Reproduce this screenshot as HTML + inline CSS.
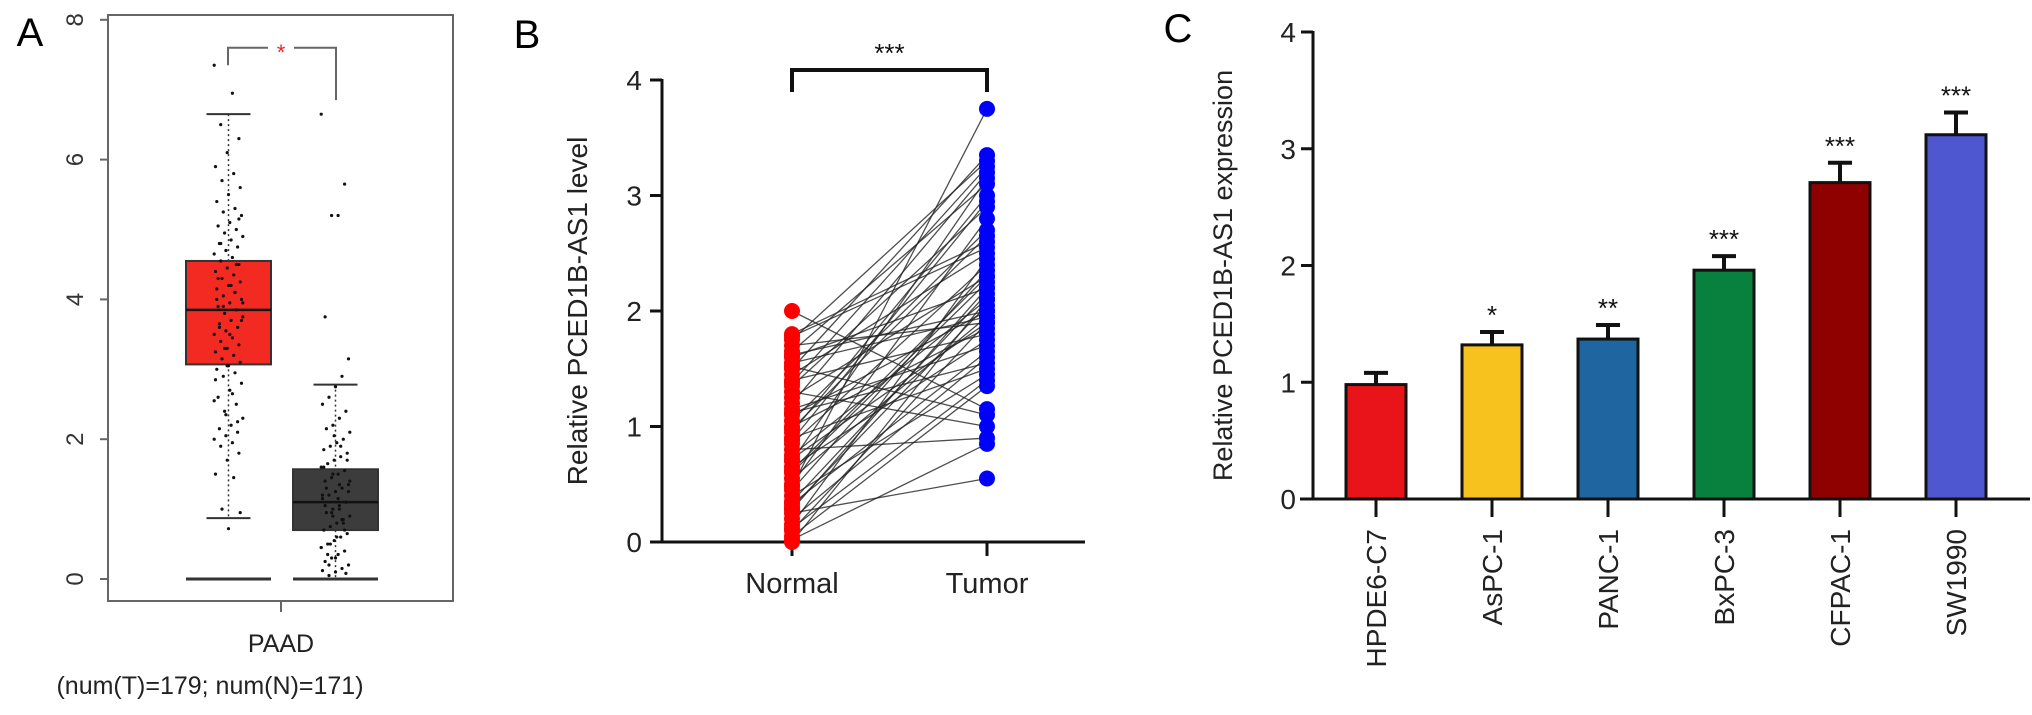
<!DOCTYPE html>
<html><head><meta charset="utf-8"><style>
html,body{margin:0;padding:0;background:#fff;width:2032px;height:715px;overflow:hidden}
svg{display:block;font-family:"Liberation Sans",Arial,sans-serif}
</style></head><body>
<svg id="fig" width="2032" height="715" viewBox="0 0 2032 715">
<g id="pa"></g>
<g id="pb"></g>
<g id="pc"></g>
</svg>
<script>
// ---------- Panel A data ----------
const aTicks = [0, 2, 4, 6, 8];
const aBoxT = {q1: 3.07, med: 3.85, q3: 4.55, lo: 0.87, hi: 6.65};
const aBoxN = {q1: 0.70, med: 1.10, q3: 1.57, lo: 0.0, hi: 2.78};
const aPtsT = [7.35,6.95,6.5,6.3,6.1,5.9,5.8,5.7,5.6,5.5,5.4,5.3,5.25,5.2,5.1,5.05,5.0,4.95,4.9,4.85,4.8,4.75,4.7,4.65,4.6,4.55,4.5,4.45,4.4,4.35,4.3,4.25,4.2,4.15,4.1,4.05,4.0,3.95,3.9,3.85,3.8,3.75,3.7,3.65,3.6,3.55,3.5,3.45,3.4,3.35,3.3,3.25,3.2,3.15,3.1,3.05,3.0,2.95,2.9,2.8,2.7,2.6,2.5,2.4,2.3,2.2,2.15,2.1,2.05,2.0,1.95,1.9,1.8,1.7,1.5,1.45,1.0,0.95,0.72,4.0,4.1,3.9,3.7,3.5,4.3,4.5,3.3,3.95,4.2,3.6,2.25,2.35,2.55,2.65,4.8,5.15,3.05,2.85];
const aPtsN = [6.65,5.65,5.2,5.2,3.75,3.15,2.9,2.75,2.6,2.5,2.4,2.3,2.2,2.15,2.1,2.0,1.95,1.9,1.85,1.8,1.75,1.7,1.65,1.6,1.55,1.5,1.45,1.4,1.35,1.3,1.25,1.2,1.15,1.1,1.05,1.0,0.95,0.9,0.85,0.8,0.75,0.7,0.65,0.6,0.55,0.5,0.45,0.4,0.35,0.3,0.25,0.2,0.15,0.1,0.05,1.2,1.1,1.0,0.9,1.3,1.4,0.8,0.6,0.5,1.6,1.7,1.9,2.05,0.35,0.45,0.7,1.15,0.95,1.05,1.25,0.85,0.3,0.2,0.12,0.08,1.35,1.5];

// ---------- Panel B data ----------
const bTicks = [0, 1, 2, 3, 4];
const bGroups = ["Normal", "Tumor"];
const bNormal = [2.0,1.8,1.75,1.7,1.65,1.6,1.55,1.5,1.45,1.4,1.35,1.3,1.25,1.2,1.15,1.1,1.05,1.0,0.95,0.9,0.85,0.8,0.75,0.7,0.65,0.6,0.55,0.5,0.45,0.4,0.35,0.3,0.25,0.2,0.15,0.1,0.05,0.02,1.78,1.62,1.38,1.12,0.98,0.72,0.48,0.28,0.12,1.52,0.88,0.62,0.33,0.0];
const bTumor = [1.15,2.6,3.3,1.9,3.1,2.2,1.95,3.35,2.5,1.8,2.9,1.0,2.3,3.2,1.7,2.0,2.7,1.85,3.0,1.5,2.4,0.9,2.1,3.15,1.75,2.25,1.95,2.8,2.35,1.45,2.15,2.05,0.55,1.6,2.45,1.9,1.35,0.85,2.55,2.0,3.25,1.55,2.65,1.9,3.75,2.2,1.4,1.1,2.95,2.3,1.65,2.1];

// ---------- Panel C data ----------
const cTicks = [0, 1, 2, 3, 4];
const cCats = ["HPDE6-C7","AsPC-1","PANC-1","BxPC-3","CFPAC-1","SW1990"];
const cVals = [0.98, 1.32, 1.37, 1.96, 2.71, 3.12];
const cErrs = [0.10, 0.11, 0.12, 0.12, 0.17, 0.19];
const cSig = ["", "*", "**", "***", "***", "***"];
const cColors = ["#e8141a","#f8c21e","#1f65a0","#08803e","#8f0000","#4f57d0"];

const NS = "http://www.w3.org/2000/svg";
function mk(parent, tag, attrs, text){
  const e = document.createElementNS(NS, tag);
  for (const k in attrs) e.setAttribute(k, attrs[k]);
  if (text !== undefined) e.textContent = text;
  parent.appendChild(e);
  return e;
}

// ================= PANEL A =================
(function(){
  const g = document.getElementById('pa');
  const y = v => 579 - v * 69.9;
  let t = mk(g,'text',{x:30,y:46,'font-size':40,'text-anchor':'middle'},'A');
   
  let r = mk(g,'rect',{x:108,y:15,width:345,height:586,fill:'none',stroke:'#666','stroke-width':2});
   
  aTicks.forEach(v=>{
    const l = mk(g,'line',{x1:100,x2:108,y1:y(v),y2:y(v),stroke:'#666','stroke-width':2});
     
    const tx = mk(g,'text',{x:0,y:0,'font-size':24,'text-anchor':'middle',fill:'#333',transform:`translate(83,${y(v)}) rotate(-90)`},String(v));
     
  });
  const xt = mk(g,'line',{x1:281,x2:281,y1:601,y2:612,stroke:'#666','stroke-width':2});
   
  t = mk(g,'text',{x:281,y:652,'font-size':25,'text-anchor':'middle',fill:'#222'},'PAAD');
   
  t = mk(g,'text',{x:210,y:694,'font-size':25,'text-anchor':'middle',fill:'#222'},'(num(T)=179; num(N)=171)');
   

  function box(b, x0, x1, fill, name){
    const c = (x0+x1)/2;
    const bg = mk(g,'g',{});
     
    mk(bg,'line',{x1:c,x2:c,y1:y(b.hi),y2:y(b.q3),stroke:'#333','stroke-width':1.5,'stroke-dasharray':'2,3'});
    mk(bg,'line',{x1:c,x2:c,y1:y(b.q1),y2:y(b.lo),stroke:'#333','stroke-width':1.5,'stroke-dasharray':'2,3'});
    mk(bg,'line',{x1:c-22,x2:c+22,y1:y(b.hi),y2:y(b.hi),stroke:'#333','stroke-width':2});
    if (b.lo>0) mk(bg,'line',{x1:c-22,x2:c+22,y1:y(b.lo),y2:y(b.lo),stroke:'#333','stroke-width':2});
    mk(bg,'rect',{x:x0,y:y(b.q3),width:x1-x0,height:y(b.q1)-y(b.q3),fill:fill,stroke:'#333','stroke-width':2});
    mk(bg,'line',{x1:x0,x2:x1,y1:y(b.med),y2:y(b.med),stroke:'#111','stroke-width':2.5});
    mk(bg,'line',{x1:x0,x2:x1,y1:y(0),y2:y(0),stroke:'#333','stroke-width':3});
    return c;
  }
  const cT = box(aBoxT,186,271,'#f32a22','tumor-box');
  const cN = box(aBoxN,293,378,'#3c3c3c','normal-box');
  aPtsT.forEach((v,i)=>{
    const j = ((i*37)%23 - 11) * 1.3;
    const p = mk(g,'circle',{cx:cT+j,cy:y(v),r:1.6,fill:'#111'});
     
  });
  aPtsN.forEach((v,i)=>{
    const j = ((i*41)%23 - 11) * 1.3;
    const p = mk(g,'circle',{cx:cN+j,cy:y(v),r:1.6,fill:'#111'});
     
  });
  const br = mk(g,'path',{d:`M228 ${y(7.35)} V${y(7.6)} H268 M294 ${y(7.6)} H336 V${y(6.85)}`,fill:'none',stroke:'#666','stroke-width':2});
   
  t = mk(g,'text',{x:281,y:y(7.6)+12,'font-size':22,'text-anchor':'middle',fill:'#f0202a'},'*');
   
})();

// ================= PANEL B =================
(function(){
  const g = document.getElementById('pb');
  const y = v => 542 - v * 115.5;
  const xs = [792, 987];
  let t = mk(g,'text',{x:527,y:48,'font-size':40,'text-anchor':'middle'},'B');
   
  let a = mk(g,'line',{x1:662,x2:662,y1:y(4)-1,y2:y(0),stroke:'#111','stroke-width':3});
   
  a = mk(g,'line',{x1:662,x2:1085,y1:y(0),y2:y(0),stroke:'#111','stroke-width':3});
   
  bTicks.forEach(v=>{
    const l = mk(g,'line',{x1:650,x2:662,y1:y(v),y2:y(v),stroke:'#111','stroke-width':3});
     
    const tx = mk(g,'text',{x:642,y:y(v)+10,'font-size':28,'text-anchor':'end',fill:'#222'},String(v));
     
  });
  t = mk(g,'text',{x:0,y:0,'font-size':28,'text-anchor':'middle',fill:'#222',transform:`translate(587,${y(2)}) rotate(-90)`},'Relative PCED1B-AS1 level');
   
  bGroups.forEach((name,i)=>{
    const l = mk(g,'line',{x1:xs[i],x2:xs[i],y1:y(0),y2:y(0)+14,stroke:'#111','stroke-width':3});
     
    const tx = mk(g,'text',{x:xs[i],y:593,'font-size':29,'text-anchor':'middle',fill:'#222'},name);
     
  });
  bNormal.forEach((v,i)=>{
    const l = mk(g,'line',{x1:xs[0],y1:y(v),x2:xs[1],y2:y(bTumor[i]),stroke:'#222','stroke-width':1.3,'stroke-opacity':0.8});
     
  });
  bNormal.forEach(v=>{
    const c = mk(g,'circle',{cx:xs[0],cy:y(v),r:8,fill:'#ff0000'});
     
  });
  bTumor.forEach(v=>{
    const c = mk(g,'circle',{cx:xs[1],cy:y(v),r:8,fill:'#0000ff'});
     
  });
  const br = mk(g,'path',{d:`M${xs[0]} 92 V70 H${xs[1]} V92`,fill:'none',stroke:'#111','stroke-width':4});
   
  t = mk(g,'text',{x:(xs[0]+xs[1])/2,y:62,'font-size':26,'text-anchor':'middle',fill:'#111'},'***');
   
})();

// ================= PANEL C =================
(function(){
  const g = document.getElementById('pc');
  const y = v => 499 - v * 116.75;
  const x = i => 1376 + i * 116;
  const bw = 60;
  let t = mk(g,'text',{x:1178,y:42,'font-size':40,'text-anchor':'middle'},'C');
   
  let a = mk(g,'line',{x1:1313,x2:1313,y1:y(4)-1,y2:y(0),stroke:'#111','stroke-width':3});
   
  cTicks.forEach(v=>{
    const l = mk(g,'line',{x1:1301,x2:1313,y1:y(v),y2:y(v),stroke:'#111','stroke-width':3});
     
    const tx = mk(g,'text',{x:1296,y:y(v)+10,'font-size':28,'text-anchor':'end',fill:'#222'},String(v));
     
  });
  t = mk(g,'text',{x:0,y:0,'font-size':27,'text-anchor':'middle',fill:'#222',transform:`translate(1232,${y(2)+10}) rotate(-90)`},'Relative PCED1B-AS1 expression');
   
  cCats.forEach((name,i)=>{
    const cx = x(i);
    const eb = mk(g,'path',{d:`M${cx} ${y(cVals[i])} V${y(cVals[i]+cErrs[i])} M${cx-12} ${y(cVals[i]+cErrs[i])} H${cx+12}`,stroke:'#111','stroke-width':4,fill:'none'});
     
    const r = mk(g,'rect',{x:cx-bw/2,y:y(cVals[i]),width:bw,height:y(0)-y(cVals[i]),fill:cColors[i],stroke:'#111','stroke-width':3});
     
    if (cSig[i]){
      const s = mk(g,'text',{x:cx,y:y(cVals[i]+cErrs[i])-8,'font-size':26,'text-anchor':'middle',fill:'#111'},cSig[i]);
       
    }
    const l = mk(g,'line',{x1:cx,x2:cx,y1:y(0),y2:y(0)+18,stroke:'#111','stroke-width':3});
     
    const tx = mk(g,'text',{x:0,y:0,'font-size':28,'text-anchor':'end',fill:'#222',transform:`translate(${cx+10},${y(0)+30}) rotate(-90)`},name);
     
  });
  a = mk(g,'line',{x1:1300,x2:2030,y1:y(0),y2:y(0),stroke:'#111','stroke-width':3});
   
})();
</script>
</body></html>
